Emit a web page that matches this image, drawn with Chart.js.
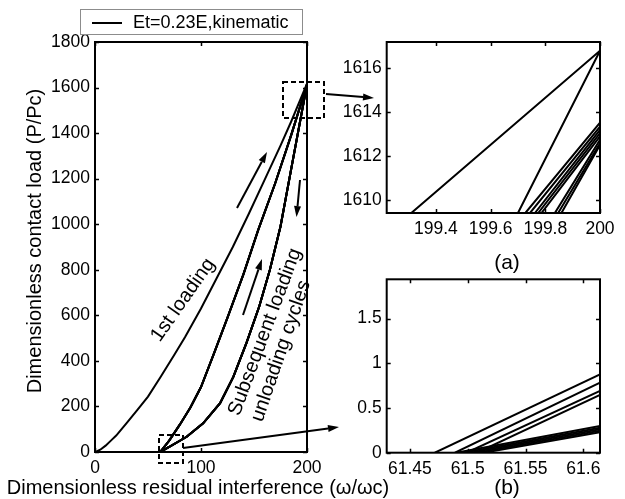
<!DOCTYPE html>
<html>
<head>
<meta charset="utf-8">
<script src="https://cdn.jsdelivr.net/npm/chart.js@4.4.1/dist/chart.umd.min.js"></script>
<style>
  html, body { margin: 0; padding: 0; background: #fff; }
  #wrap { position: relative; width: 625px; height: 499px; }
  #wrap canvas { position: absolute; left: 0; top: 0; }
</style>
</head>
<body>
<div id="wrap">
  <canvas id="main" width="625" height="499"></canvas>
  <canvas id="insetA" width="625" height="499"></canvas>
  <canvas id="insetB" width="625" height="499"></canvas>
</div>
<script>
const FONT = '"Liberation Sans", Arial, Helvetica, sans-serif';

// axes
const mainXTicks = [0, 100, 200];
const mainYTicks = [0, 200, 400, 600, 800, 1000, 1200, 1400, 1600, 1800];
const aXTicks = [199.4, 199.6, 199.8, 200];
const aYTicks = [1610, 1612, 1614, 1616];
const aXRange = [199.22, 200];
const aYRange = [1609.4, 1617.2];
const bXTicks = [61.45, 61.5, 61.55, 61.6];
const bYTicks = [0, 0.5, 1, 1.5];
const bXRange = [61.43, 61.6144];
const bYRange = [0, 1.94];

// 1st loading
const firstLoadX = [0, 5, 10, 15, 20, 30, 40, 50, 62, 75, 85, 100, 115, 130, 145, 160, 175, 185, 199.31, 200];
const firstLoadY = [0, 10, 28, 50, 72, 128, 185, 243, 330, 428, 505, 630, 765, 900, 1045, 1195, 1345, 1450, 1609.4, 1616.8];

// where the cycle branches cross the inset edges
const EDGE_X = 61.6144;   // right edge of inset (b)
const ENTRY_Y = 1609.4;   // bottom edge of inset (a)

// subsequent loading branches
const reloadBodyX = [70, 80, 90, 100, 112, 125, 140, 154, 170, 185];
const reloadBodyY = [50, 120, 195, 285, 430, 590, 780, 975, 1180, 1390];
const reloadStartX = [61.4716, 61.489, 61.499, 61.508];
const reloadEdgeY = [0.877, 0.784, 0.691, 0.647];
const reloadEntryX = [199.727, 199.744, 199.762, 199.774];
const reloadPeakY = [1613.52, 1613.34, 1613.19, 1613.04];

// unloading branches
const unloadBodyX = [70, 86.5, 102, 118, 130.5, 143, 155, 165, 175, 187];
const unloadBodyY = [22, 67, 126, 214, 330, 480, 640, 800, 990, 1290];
const unloadStartX = [61.490, 61.496, 61.502, 61.508, 61.514];
const unloadEdgeY = [0.30, 0.28, 0.262, 0.245, 0.228];
const unloadEntryX = [199.70, 199.786, 199.835, 199.847, 199.859];
const unloadPeakY = [1616.8, 1612.9, 1612.74, 1612.58, 1612.5];

function pts(xs, ys) {
  return xs.map((x, i) => ({ x: x, y: ys[i] }));
}

function buildDatasets() {
  const curves = [pts(firstLoadX, firstLoadY)];
  reloadStartX.forEach((x0, i) => {
    curves.push(pts([x0, EDGE_X, ...reloadBodyX, reloadEntryX[i], 200],
                    [0, reloadEdgeY[i], ...reloadBodyY, ENTRY_Y, reloadPeakY[i]]));
  });
  unloadStartX.forEach((x0, i) => {
    curves.push(pts([x0, EDGE_X, ...unloadBodyX, unloadEntryX[i], 200],
                    [0, unloadEdgeY[i], ...unloadBodyY, ENTRY_Y, unloadPeakY[i]]));
  });
  return curves.map(d => ({
    data: d,
    borderColor: '#000',
    borderWidth: 2,
    pointRadius: 0,
    tension: 0,
    fill: false
  }));
}

// box + inward ticks, matlab style
const framePlugin = {
  id: 'frame',
  afterDatasetsDraw(chart) {
    const { ctx, chartArea: a, scales } = chart;
    const len = 4;
    ctx.save();
    ctx.strokeStyle = '#000';
    ctx.lineWidth = 1.5;
    ctx.beginPath();
    scales.x.ticks.forEach(t => {
      const px = Math.round(scales.x.getPixelForValue(t.value)) + 0.5;
      ctx.moveTo(px, a.bottom); ctx.lineTo(px, a.bottom - len);
      ctx.moveTo(px, a.top); ctx.lineTo(px, a.top + len);
    });
    scales.y.ticks.forEach(t => {
      const py = Math.round(scales.y.getPixelForValue(t.value)) + 0.5;
      ctx.moveTo(a.left, py); ctx.lineTo(a.left + len, py);
      ctx.moveTo(a.right, py); ctx.lineTo(a.right - len, py);
    });
    ctx.stroke();
    ctx.lineWidth = 2;
    ctx.strokeRect(a.left, a.top, a.right - a.left, a.bottom - a.top);
    ctx.restore();
  }
};

function arrow(ctx, x1, y1, x2, y2) {
  const ang = Math.atan2(y2 - y1, x2 - x1);
  const head = 11, half = 3.5;
  const bx = x2 - head * Math.cos(ang), by = y2 - head * Math.sin(ang);
  ctx.beginPath();
  ctx.moveTo(x1, y1);
  ctx.lineTo(bx, by);
  ctx.stroke();
  ctx.beginPath();
  ctx.moveTo(x2, y2);
  ctx.lineTo(bx + half * Math.sin(ang), by - half * Math.cos(ang));
  ctx.lineTo(bx - half * Math.sin(ang), by + half * Math.cos(ang));
  ctx.closePath();
  ctx.fill();
}

function rotText(ctx, text, x, y, deg) {
  ctx.save();
  ctx.translate(x, y);
  ctx.rotate(deg * Math.PI / 180);
  ctx.fillText(text, 0, 0);
  ctx.restore();
}

const annotationPlugin = {
  id: 'notes',
  afterDraw(chart) {
    const ctx = chart.ctx;
    ctx.save();
    ctx.fillStyle = '#000';
    ctx.strokeStyle = '#000';

    // legend
    ctx.lineWidth = 1;
    ctx.strokeStyle = '#8c8c8c';
    ctx.strokeRect(80.5, 9.5, 222, 25);
    ctx.strokeStyle = '#000';
    ctx.lineWidth = 2;
    ctx.beginPath(); ctx.moveTo(92, 23); ctx.lineTo(122, 23); ctx.stroke();
    ctx.font = '18px ' + FONT;
    ctx.textAlign = 'left';
    ctx.textBaseline = 'middle';
    ctx.fillText('Et=0.23E,kinematic', 133, 23);

    // axis titles
    ctx.font = '20px ' + FONT;
    ctx.textAlign = 'center';
    ctx.textBaseline = 'alphabetic';
    ctx.fillText('Dimensionless residual interference (\u03c9/\u03c9c)', 198, 494);
    ctx.textBaseline = 'middle';
    rotText(ctx, 'Dimensionless contact load (P/Pc)', 35, 241, -90);

    // curve labels
    rotText(ctx, '1st loading', 183, 300, -55);
    rotText(ctx, 'Subsequent loading', 265, 332, -69.5);
    rotText(ctx, 'unloading cycles', 281, 351, -71);

    // captions
    ctx.font = '21px ' + FONT;
    ctx.fillText('(a)', 507, 263);
    ctx.fillText('(b)', 507, 488);

    // dashed zoom boxes
    ctx.lineWidth = 2;
    ctx.setLineDash([5, 3]);
    ctx.strokeRect(283, 82, 41, 36);
    ctx.strokeRect(159, 435, 24, 28);
    ctx.setLineDash([]);

    // arrows
    ctx.lineWidth = 2;
    arrow(ctx, 237, 208, 267, 152);
    arrow(ctx, 243, 315, 262, 259);
    arrow(ctx, 300, 180, 296.5, 217);
    arrow(ctx, 326, 94, 374, 98);
    arrow(ctx, 183, 448, 339, 427);
    ctx.restore();
  }
};

function axis(ticks, range, pad, fitKey, fitVal) {
  const ax = {
    type: 'linear',
    min: range[0],
    max: range[1],
    grid: { display: false, drawTicks: false },
    border: { display: false },
    ticks: {
      color: '#000',
      font: { family: FONT, size: 17.5 },
      padding: pad,
      autoSkip: false,
      maxRotation: 0,
      callback: v => String(v)
    },
    afterBuildTicks: s => { s.ticks = ticks.map(v => ({ value: v })); },
    afterFit: s => { s[fitKey] = fitVal; }
  };
  return ax;
}

function makeChart(id, xTicks, xRange, yTicks, yRange, box, extra) {
  return new Chart(document.getElementById(id), {
    type: 'line',
    data: { datasets: buildDatasets() },
    options: {
      responsive: false,
      animation: false,
      events: [],
      layout: { padding: { left: 0, top: box.top, right: 625 - box.right, bottom: 0 } },
      plugins: { legend: { display: false }, tooltip: { enabled: false } },
      scales: {
        x: axis(xTicks, xRange, 6, 'height', 499 - box.bottom),
        y: axis(yTicks, yRange, 5, 'width', box.left)
      }
    },
    plugins: extra ? [framePlugin, extra] : [framePlugin]
  });
}

makeChart('main', mainXTicks, [0, 200], mainYTicks, [0, 1800],
  { left: 95, right: 307, top: 42, bottom: 452 }, annotationPlugin);
makeChart('insetA', aXTicks, aXRange, aYTicks, aYRange,
  { left: 386.7, right: 600, top: 42, bottom: 213 });
makeChart('insetB', bXTicks, bXRange, bYTicks, bYRange,
  { left: 386.7, right: 600, top: 279.3, bottom: 452.7 });
</script>
</body>
</html>
